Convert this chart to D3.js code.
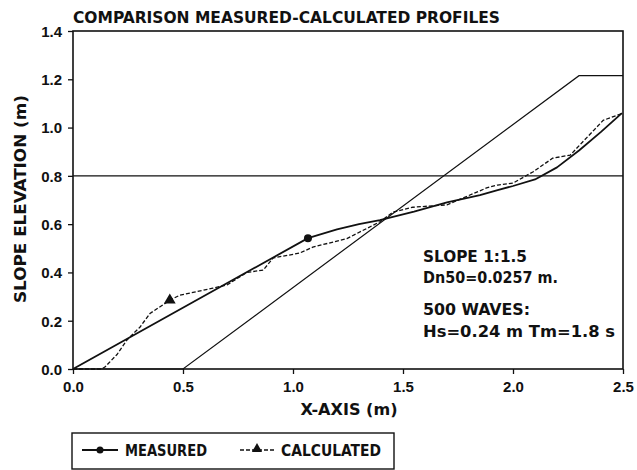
<!DOCTYPE html>
<html><head><meta charset="utf-8">
<script src="https://cdn.jsdelivr.net/npm/d3@7"></script>
<style>
body{margin:0;background:#fff;}
text{font-family:"Liberation Sans Narrow","DejaVu Sans Condensed","Liberation Sans",Arial,sans-serif;font-weight:bold;fill:#111;}
</style></head>
<body><svg id="c" width="637" height="470"></svg>
<script>
const title = "COMPARISON MEASURED-CALCULATED PROFILES";
const xTicks = [0, 0.5, 1.0, 1.5, 2.0, 2.5];
const yTicks = [0, 0.2, 0.4, 0.6, 0.8, 1.0, 1.2, 1.4];
const waterLevel = 0.8;
const initialX = [0, 0.5, 2.3, 2.5];
const initialY = [0, 0, 1.215, 1.215];
const measuredX = [0, 1.068, 1.2, 1.3, 1.395, 1.55, 1.70, 1.85, 1.93, 2.0, 2.1, 2.2, 2.3, 2.4, 2.495];
const measuredY = [0, 0.542, 0.578, 0.600, 0.617, 0.652, 0.69, 0.72, 0.741, 0.758, 0.785, 0.835, 0.905, 0.982, 1.06];
const calculatedX = [0, 0.13, 0.145, 0.2, 0.245, 0.305, 0.35, 0.44, 0.486, 0.636, 0.70, 0.79, 0.865, 0.91, 1.03, 1.09, 1.245, 1.395, 1.455, 1.545, 1.70, 1.88, 1.93, 2.0, 2.09, 2.18, 2.26, 2.41, 2.5];
const calculatedY = [0, 0, 0.008, 0.06, 0.12, 0.174, 0.23, 0.285, 0.306, 0.335, 0.348, 0.40, 0.41, 0.46, 0.48, 0.505, 0.54, 0.61, 0.65, 0.67, 0.68, 0.75, 0.762, 0.77, 0.816, 0.873, 0.886, 1.03, 1.06];
const measuredMarker = [1.068, 0.542];
const calculatedMarker = [0.44, 0.285];
const infoLines = ["SLOPE 1:1.5", "Dn50=0.0257 m.", "", "500 WAVES:", "Hs=0.24 m Tm=1.8 s"];
const legendNames = ["MEASURED", "CALCULATED"];

const svg = d3.select("#c");
const x = d3.scaleLinear().domain([0, 2.5]).range([73, 623]);
const y = d3.scaleLinear().domain([0, 1.4]).range([369, 31]);

// frame
svg.append("rect").attr("x", x(0)).attr("y", y(1.4)).attr("width", x(2.5) - x(0)).attr("height", y(0) - y(1.4))
  .attr("fill", "none").attr("stroke", "#111").attr("stroke-width", 1.6);

// axes
const xa = svg.append("g").attr("transform", `translate(0,${y(0)})`)
  .call(d3.axisBottom(x).tickValues(xTicks).tickSize(5).tickFormat(d3.format(".1f")));
const ya = svg.append("g").attr("transform", `translate(${x(0)},0)`)
  .call(d3.axisLeft(y).tickValues(yTicks).tickSize(5).tickFormat(d3.format(".1f")));
[xa, ya].forEach(g => {
  g.select(".domain").remove();
  g.selectAll("line").attr("stroke", "#111").attr("stroke-width", 1.3);
  g.selectAll("text").style("font-size", "15px").style("font-family", "'Liberation Sans',Arial,sans-serif").attr("fill", "#111");
});
xa.selectAll("text").attr("y", 12);
ya.selectAll("text").attr("x", -11).attr("dy", "0.36em");

// water level
svg.append("line").attr("x1", x(0)).attr("x2", x(2.5)).attr("y1", y(waterLevel)).attr("y2", y(waterLevel))
  .attr("stroke", "#111").attr("stroke-width", 1.1);

const line = d3.line().x(d => x(d[0])).y(d => y(d[1]));
svg.append("path").datum(initialX.map((v, i) => [v, initialY[i]])).attr("d", line)
  .attr("fill", "none").attr("stroke", "#111").attr("stroke-width", 1.2);
svg.append("path").datum(measuredX.map((v, i) => [v, measuredY[i]])).attr("d", line)
  .attr("fill", "none").attr("stroke", "#111").attr("stroke-width", 1.8).attr("stroke-linejoin", "round");
svg.append("path").datum(calculatedX.map((v, i) => [v, calculatedY[i]])).attr("d", line)
  .attr("fill", "none").attr("stroke", "#111").attr("stroke-width", 1.3).attr("stroke-dasharray", "4,2");

const tri = d3.symbol().type(d3.symbolTriangle).size(60);
svg.append("circle").attr("cx", x(measuredMarker[0])).attr("cy", y(measuredMarker[1])).attr("r", 4).attr("fill", "#111");
svg.append("path").attr("d", tri).attr("transform", `translate(${x(calculatedMarker[0])},${y(calculatedMarker[1])})`).attr("fill", "#111");

// title
svg.append("text").attr("x", 73).attr("y", 23).attr("textLength", 427).attr("lengthAdjust", "spacingAndGlyphs")
  .style("font-size", "16px").text(title);

// axis titles
svg.append("text").attr("x", 349).attr("y", 415).attr("text-anchor", "middle").attr("textLength", 97).attr("lengthAdjust", "spacingAndGlyphs")
  .style("font-size", "15px").text("X-AXIS (m)");
svg.append("text").attr("transform", "translate(26,199) rotate(-90)").attr("text-anchor", "middle").attr("textLength", 208).attr("lengthAdjust", "spacingAndGlyphs")
  .style("font-size", "15px").text("SLOPE ELEVATION (m)");

// info text
const infoY = [262, 283, 0, 315, 337];
const infoW = [104, 135, 0, 107, 192];
infoLines.forEach((t, i) => {
  if (!t) return;
  svg.append("text").attr("x", 423).attr("y", infoY[i]).attr("textLength", infoW[i]).attr("lengthAdjust", "spacingAndGlyphs")
    .style("font-size", "16px").text(t);
});

// legend
svg.append("rect").attr("x", 72).attr("y", 433).attr("width", 322).attr("height", 36)
  .attr("fill", "none").attr("stroke", "#111").attr("stroke-width", 1.4);
svg.append("line").attr("x1", 82).attr("x2", 118).attr("y1", 450).attr("y2", 450).attr("stroke", "#111").attr("stroke-width", 1.8);
svg.append("circle").attr("cx", 100).attr("cy", 450).attr("r", 3.5).attr("fill", "#111");
svg.append("line").attr("x1", 240).attr("x2", 274).attr("y1", 450).attr("y2", 450).attr("stroke", "#111").attr("stroke-width", 1.5).attr("stroke-dasharray", "4,2");
svg.append("path").attr("d", d3.symbol().type(d3.symbolTriangle).size(45)).attr("transform", "translate(257,449)").attr("fill", "#111");
svg.append("text").attr("x", 125).attr("y", 456).attr("textLength", 82).attr("lengthAdjust", "spacingAndGlyphs").style("font-size", "15px").text(legendNames[0]);
svg.append("text").attr("x", 281).attr("y", 456).attr("textLength", 100).attr("lengthAdjust", "spacingAndGlyphs").style("font-size", "15px").text(legendNames[1]);
</script></body></html>
